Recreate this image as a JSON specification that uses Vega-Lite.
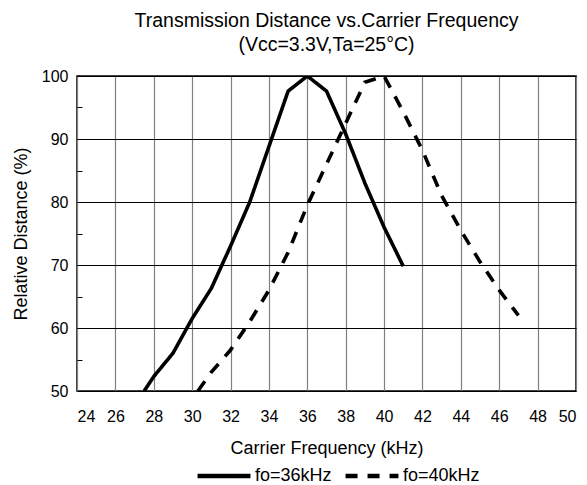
{
  "$schema": "https://vega.github.io/schema/vega-lite/v6.json",
  "width": 499,
  "height": 315,
  "autosize": {"type": "none"},
  "padding": {"left": 77, "top": 76, "right": 11, "bottom": 94},
  "background": "white",
  "title": {
    "text": ["Transmission Distance vs.Carrier Frequency", "(Vcc=3.3V,Ta=25°C)"],
    "font": "Liberation Sans",
    "fontSize": 19.5,
    "fontWeight": "normal",
    "color": "black",
    "anchor": "middle",
    "offset": 13,
    "lineHeight": 24
  },
  "config": {
    "view": {"stroke": "black", "strokeWidth": 1.5},
    "font": "Liberation Sans"
  },
  "data": {
    "values": [
      {"f": 27.5, "d": 50, "s": "fo=36kHz"},
      {"f": 28, "d": 52.3, "s": "fo=36kHz"},
      {"f": 29, "d": 56, "s": "fo=36kHz"},
      {"f": 30, "d": 61.5, "s": "fo=36kHz"},
      {"f": 31, "d": 66.3, "s": "fo=36kHz"},
      {"f": 32, "d": 73, "s": "fo=36kHz"},
      {"f": 33, "d": 80, "s": "fo=36kHz"},
      {"f": 34, "d": 88.8, "s": "fo=36kHz"},
      {"f": 35, "d": 97.6, "s": "fo=36kHz"},
      {"f": 36, "d": 100, "s": "fo=36kHz"},
      {"f": 37, "d": 97.6, "s": "fo=36kHz"},
      {"f": 38, "d": 90.8, "s": "fo=36kHz"},
      {"f": 39, "d": 83, "s": "fo=36kHz"},
      {"f": 40, "d": 76, "s": "fo=36kHz"},
      {"f": 41, "d": 69.8, "s": "fo=36kHz"},
      {"f": 30.3, "d": 50, "s": "fo=40kHz"},
      {"f": 31, "d": 53, "s": "fo=40kHz"},
      {"f": 32, "d": 56.5, "s": "fo=40kHz"},
      {"f": 33, "d": 61, "s": "fo=40kHz"},
      {"f": 34, "d": 66, "s": "fo=40kHz"},
      {"f": 35, "d": 72, "s": "fo=40kHz"},
      {"f": 36, "d": 79.5, "s": "fo=40kHz"},
      {"f": 37, "d": 86, "s": "fo=40kHz"},
      {"f": 38, "d": 92.5, "s": "fo=40kHz"},
      {"f": 39, "d": 99, "s": "fo=40kHz"},
      {"f": 40, "d": 100, "s": "fo=40kHz"},
      {"f": 41, "d": 94.3, "s": "fo=40kHz"},
      {"f": 42, "d": 88.2, "s": "fo=40kHz"},
      {"f": 43, "d": 81, "s": "fo=40kHz"},
      {"f": 44, "d": 75.5, "s": "fo=40kHz"},
      {"f": 45, "d": 70.5, "s": "fo=40kHz"},
      {"f": 46, "d": 66, "s": "fo=40kHz"},
      {"f": 47, "d": 62, "s": "fo=40kHz"}
    ]
  },
  "mark": {"type": "line", "color": "black", "strokeWidth": 3.6, "clip": true},
  "encoding": {
    "x": {
      "field": "f",
      "type": "quantitative",
      "scale": {"domain": [24, 50], "nice": false, "zero": false},
      "axis": {
        "values": [24, 26, 28, 30, 32, 34, 36, 38, 40, 42, 44, 46, 48, 50],
        "title": "Carrier Frequency (kHz)",
        "titleFont": "Liberation Sans",
        "titleFontSize": 18,
        "titleFontWeight": "normal",
        "titleColor": "black",
        "titlePadding": 15,
        "labelFont": "Liberation Sans",
        "labelFontSize": 16,
        "labelColor": "black",
        "labelPadding": 17,
        "ticks": false,
        "domain": false,
        "grid": true,
        "gridColor": "#808080",
        "gridWidth": 1.2,
        "gridOpacity": 1
      }
    },
    "y": {
      "field": "d",
      "type": "quantitative",
      "scale": {"domain": [50, 100], "nice": false, "zero": false},
      "axis": {
        "values": [50, 55, 60, 65, 70, 75, 80, 85, 90, 95, 100],
        "labelExpr": "datum.value % 10 === 0 ? datum.label : ''",
        "title": "Relative Distance (%)",
        "titleFont": "Liberation Sans",
        "titleFontSize": 18,
        "titleFontWeight": "normal",
        "titleColor": "black",
        "titlePadding": 11,
        "labelFont": "Liberation Sans",
        "labelFontSize": 16,
        "labelColor": "black",
        "labelPadding": 14,
        "ticks": true,
        "tickSize": -5,
        "tickColor": "black",
        "tickWidth": 1,
        "domain": false,
        "grid": true,
        "gridColor": "black",
        "gridWidth": 1.2,
        "gridOpacity": {"condition": {"test": "datum.value % 10 === 0", "value": 1}, "value": 0}
      }
    },
    "strokeDash": {
      "field": "s",
      "type": "nominal",
      "scale": {"domain": ["fo=36kHz", "fo=40kHz"], "range": [[1, 0], [12, 10]]},
      "legend": {
        "title": null,
        "orient": "none",
        "legendX": 118,
        "legendY": 371,
        "direction": "horizontal",
        "symbolType": "stroke",
        "symbolSize": 2800,
        "symbolStrokeWidth": 4.5,
        "symbolStrokeColor": "black",
        "labelFont": "Liberation Sans",
        "labelFontSize": 18,
        "labelColor": "black",
        "labelOffset": 2,
        "columnPadding": 4
      }
    }
  }
}
